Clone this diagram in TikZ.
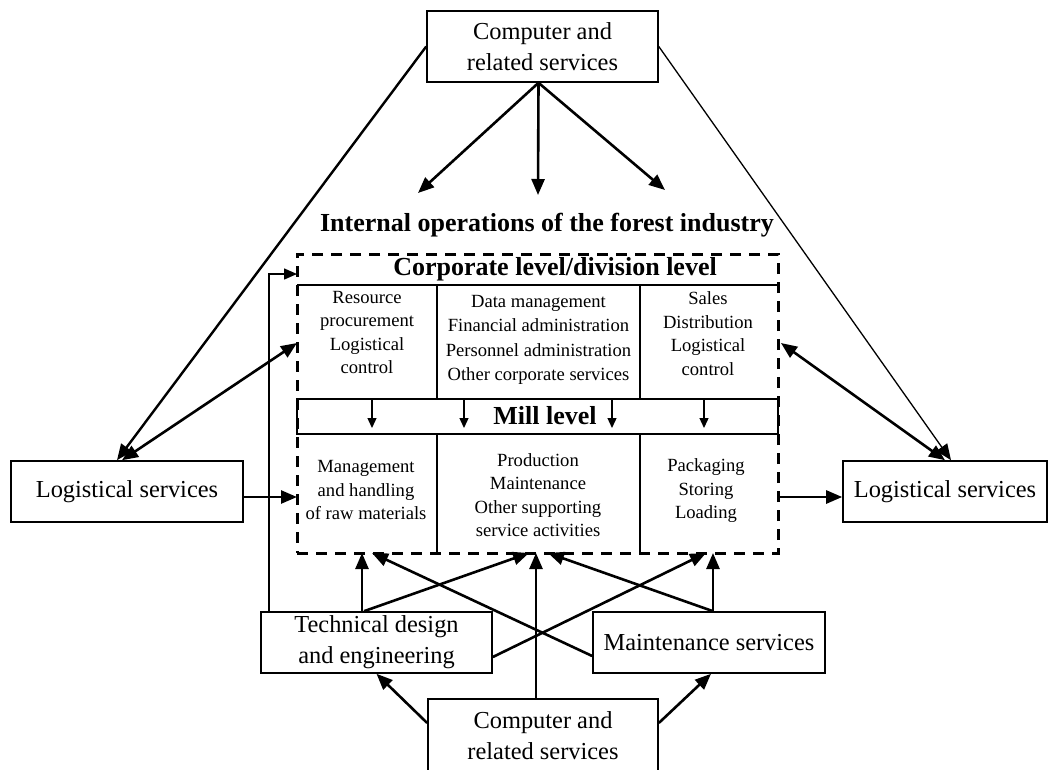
\documentclass[tikz,border=0pt]{standalone}
\usepackage{fontspec}
\setmainfont{Liberation Serif}
\usetikzlibrary{arrows.meta}
\begin{document}
\begin{tikzpicture}[x=1pt,y=-1pt,
  box/.style={draw,line width=1.6pt,inner sep=0pt,align=center,
    font=\fontsize{24.4}{31}\selectfont},
  cell/.style={inner sep=0pt,align=center,font=\fontsize{18.6}{23.5}\selectfont},
  heading/.style={inner sep=0pt,font=\fontsize{26}{30}\selectfont\bfseries},
  bigtip/.style={-{Triangle[length=16pt,width=13pt]}},
  flow/.style={line width=2.6pt,bigtip},
  both/.style={line width=2.6pt,{Triangle[length=16pt,width=13pt]}-{Triangle[length=16pt,width=13pt]}},
  thinflow/.style={line width=1.3pt,bigtip},
  drop/.style={line width=1.3pt,-{Triangle[length=10pt,width=9pt]}},
  rule/.style={line width=1.6pt}
]
\useasboundingbox (0,0) rectangle (1052,769);

% service boxes
\node[box,minimum width=231pt,minimum height=71pt] (top) at (542.5,46.5) {Computer and\\related services};
\node[box,minimum width=232pt,minimum height=61pt] (logL) at (127,491.5) {Logistical services};
\node[box,minimum width=204pt,minimum height=61pt] (logR) at (945,491.5) {Logistical services};
\node[box,minimum width=231pt,minimum height=61pt] (tech) at (376.5,642.5) {Technical design\\and engineering};
\node[box,minimum width=232pt,minimum height=61pt] (maint) at (709,642.5) {Maintenance services};
\node[box,minimum width=230pt,minimum height=74pt] (comp) at (543,736) {Computer and\\related services};

% internal operations
\node[heading] (title) at (547,225) {Internal operations of the forest industry};

\draw[rule] (297,285) -- (778,285);
\draw[rule] (437,285) -- (437,399);
\draw[rule] (640,285) -- (640,399);
\draw[rule] (297,399) rectangle (778,434);
\draw[rule] (437,434) -- (437,553);
\draw[rule] (640,434) -- (640,553);
\node[draw,line width=3pt,dash pattern=on 11pt off 8pt,inner sep=0pt,
  minimum width=481pt,minimum height=299pt] (ops) at (537.5,403.5) {};

\node[heading] (corp) at (555,269) {Corporate level/division level};
\node[heading] (mill) at (545,416) {Mill level};

\node[cell] (c1) at (367,332.5) {Resource\\procurement\\Logistical\\control};
\node[cell,font=\fontsize{18.6}{24.5}\selectfont] (c2) at (538.5,340) {Data management\\Financial administration\\Personnel administration\\Other corporate services};
\node[cell] (c3) at (708,333.5) {Sales\\Distribution\\Logistical\\control};
\node[cell] (m1) at (366,490) {Management\\and handling\\of raw materials};
\node[cell] (m2) at (538,495) {Production\\Maintenance\\Other supporting\\service activities};
\node[cell] (m3) at (706,491) {Packaging\\Storing\\Loading};

% corporate level down to mill level
\foreach \x in {372,464,612,704}
  \draw[drop] (\x,399) -- (\x,428);

% contact points on the dashed frame
\coordinate (fanL) at (418,193);
\coordinate (fanC) at (538,195);
\coordinate (fanR) at (665,190);
\coordinate (fbIn) at (297,274);
\coordinate (opsUL) at (297,343);
\coordinate (opsUR) at (781,343);
\coordinate (opsL) at (297,497);
\coordinate (opsR) at (778,497);
\coordinate (tA) at (362,553);
\coordinate (tB) at (372,553);
\coordinate (tC) at (529,553);
\coordinate (tD) at (536,553);
\coordinate (tE) at (548,553);
\coordinate (tF) at (706,553);
\coordinate (tG) at (713,553);

% computer services fanning into the industry
\draw[flow] ([xshift=-4pt]top.south) -- (fanL);
\draw[flow] ([xshift=-4pt]top.south) -- (fanC);
\draw[flow] ([xshift=-4pt]top.south) -- (fanR);
\draw[line width=2.4pt,bigtip] (top.west) -- ([xshift=-10pt]logL.north);
\draw[thinflow] (top.east) -- ([xshift=6pt]logR.north);

% logistical services
\draw[both] ([xshift=-5pt]logL.north) -- (opsUL);
\draw[both] (opsUR) -- (logR.north);
\draw[flow] ([yshift=-5.5pt]logL.east) -- (opsL);
\draw[flow] (opsR) -- ([yshift=-5.5pt]logR.west);

% technical design and maintenance services
\draw[line width=1.5pt,-{Triangle[length=13pt,width=11pt]}] ([xshift=9pt]tech.north west) |- (fbIn);
\draw[flow] ([xshift=-14.5pt]tech.north) -- (tA);
\draw[flow] ([xshift=-12.5pt]tech.north) -- (tC);
\draw[flow] ([yshift=-14.5pt]tech.east) -- (tF);
\draw[flow] ([yshift=-13.5pt]maint.west) -- (tB);
\draw[flow] ([xshift=4pt]maint.north) -- (tE);
\draw[flow] ([xshift=4pt]maint.north) -- (tG);

% computer services below
\draw[flow] ([xshift=-7pt]comp.north) -- (tD);
\draw[flow] ([yshift=13pt]comp.west) -- (tech.south);
\draw[flow] ([yshift=13pt]comp.east) -- ([xshift=2pt]maint.south);
\end{tikzpicture}
\end{document}
